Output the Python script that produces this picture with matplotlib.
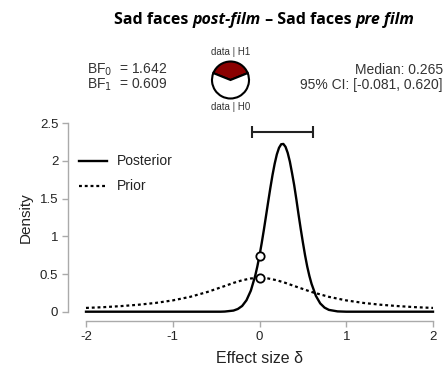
import matplotlib
matplotlib.use("Agg")
import matplotlib.pyplot as plt
import numpy as np

# posterior density
post_x = [-2.0, -0.45, -0.40, -0.30, -0.25, -0.20, -0.15, -0.10, -0.05, -0.025, 0.00,
          0.025, 0.05, 0.075, 0.10, 0.125, 0.15, 0.175, 0.20, 0.225, 0.25, 0.275,
          0.30, 0.325, 0.35, 0.375, 0.40, 0.425, 0.45, 0.475, 0.50, 0.525,
          0.55, 0.575, 0.60, 0.65, 0.70, 0.75, 0.80, 0.90, 1.00, 2.0]
post_y = [0.0, 0.0, 0.002, 0.015, 0.036, 0.076, 0.152, 0.279, 0.474, 0.600, 0.745,
          0.908, 1.084, 1.270, 1.458, 1.642, 1.814, 1.964, 2.088, 2.175, 2.222, 2.226,
          2.188, 2.108, 1.992, 1.840, 1.678, 1.490, 1.290, 1.100, 0.920, 0.750,
          0.600, 0.475, 0.370, 0.210, 0.110, 0.054, 0.024, 0.004, 0.0, 0.0]

# prior density (dotted)
prior_x = [-2.0, -1.8, -1.6, -1.4, -1.2, -1.0, -0.8, -0.6, -0.4, -0.3, -0.2, -0.1,
           0.0, 0.1, 0.2, 0.3, 0.4, 0.6, 0.8, 1.0, 1.2, 1.4, 1.6, 1.8, 2.0]
prior_y = [0.050, 0.060, 0.074, 0.092, 0.116, 0.150, 0.197, 0.262, 0.341, 0.382, 0.417, 0.441,
           0.450, 0.441, 0.417, 0.382, 0.341, 0.262, 0.197, 0.150, 0.116, 0.092, 0.074, 0.060, 0.050]

bf01 = 1.642
bf10 = 0.609
median = 0.265
ci = [-0.081, 0.620]

W, H = 445, 374
fig = plt.figure(figsize=(W / 100, H / 100), dpi=100)
plt.rcParams['font.family'] = ['Liberation Sans', 'DejaVu Sans']
plt.rcParams['axes.unicode_minus'] = False

ax = fig.add_axes([86 / W, (H - 311.7) / H, (433 - 86) / W, (311.7 - 123.3) / H])
ax.plot(post_x, post_y, color='black', lw=1.7, clip_on=False, label='Posterior', zorder=3)
ax.plot(prior_x, prior_y, color='black', lw=1.6, ls=(0, (1.3, 1.3)), clip_on=False, label='Prior', zorder=2)

# density at zero, taken from the series
p0 = post_y[post_x.index(0.0)]
q0 = prior_y[prior_x.index(0.0)]
ax.plot([0, 0], [p0, q0], 'o', ms=6, mfc='white', mec='black', mew=1.3, clip_on=False, zorder=4)

# credible interval bar
ax.errorbar(median, 2.38, xerr=[[median - ci[0]], [ci[1] - median]], fmt='none',
            ecolor='#222222', elinewidth=1.5, capsize=4, capthick=1.5, clip_on=False)

ax.set_xlim(-2, 2)
ax.set_ylim(0, 2.5)
ax.set_xticks([-2, -1, 0, 1, 2])
ax.set_yticks([0, 0.5, 1, 1.5, 2, 2.5])
ax.set_yticklabels(['0', '0.5', '1', '1.5', '2', '2.5'])
for s in ['top', 'right']:
    ax.spines[s].set_visible(False)
ax.spines['left'].set_position(('outward', 13))
ax.spines['bottom'].set_position(('outward', 7))
ax.spines['left'].set_bounds(0, 2.5)
ax.spines['bottom'].set_bounds(-2, 2)
for s in ['left', 'bottom']:
    ax.spines[s].set_color('#aaaaaa')
    ax.spines[s].set_linewidth(1.0)
ax.tick_params(colors='#aaaaaa', labelcolor='#222222', labelsize=9.5, length=4, width=1.0, pad=3)
ax.set_xlabel('Effect size δ', fontsize=11.5, color='#222222', labelpad=6)
ax.set_ylabel('Density', fontsize=11, color='#222222', labelpad=5)

leg = ax.legend(loc='upper left', bbox_to_anchor=(-0.02, 0.835), frameon=False, fontsize=10,
                handlelength=2.0, labelspacing=0.8, handletextpad=0.75,
                borderpad=0, borderaxespad=0)
for t in leg.get_texts():
    t.set_color('#222222')

# title built from bold / bold italic pieces
pieces = [("Sad faces ", 'normal'), ("post-film", 'italic'),
          (" \u2013 Sad faces ", 'normal'), ("pre film", 'italic')]
fig.canvas.draw()
r = fig.canvas.get_renderer()
texts = []
for s, st in pieces:
    t = fig.text(0, 1 - 20 / H, s, fontsize=11.5, fontweight='bold', style=st,
                 family='Open Sans', va='center', ha='left')
    texts.append(t)
widths = [t.get_window_extent(r).width for t in texts]
total = sum(widths)
x = 264 - total / 2
for t, w in zip(texts, widths):
    t.set_x(x / W)
    x += w

txt = dict(fontsize=10, color='#333333')
fig.text(87 / W, 1 - 70 / H, 'BF$_0$  = %.3f' % bf01, va='center', **txt)
fig.text(87 / W, 1 - 85 / H, 'BF$_1$  = %.3f' % bf10, va='center', **txt)
fig.text(443 / W, 1 - 70 / H, 'Median: %.3f' % median, ha='right', va='center', **txt)
fig.text(443 / W, 1 - 85 / H, '95%% CI: [%.3f, %.3f]' % (ci[0], ci[1]), ha='right', va='center', **txt)

# pie of data|H1 vs data|H0
cx, cy, rad = 230.5, 80, 18.5
pax = fig.add_axes([(cx - rad) / W, 1 - (cy + rad) / H, 2 * rad / W, 2 * rad / H])
p1 = bf10 / (1 + bf10)
wedges, _ = pax.pie([p1, 1 - p1], colors=['#8b0000', 'white'], startangle=90 - p1 * 180,
                    wedgeprops=dict(edgecolor='black', linewidth=1.5))
for w in wedges:
    w.set_clip_on(False)
pax.set_xlim(-1, 1)
pax.set_ylim(-1, 1)
pax.set_aspect('equal')
fig.text(cx / W, 1 - 52 / H, 'data | H1', ha='center', va='center', fontsize=7, color='#333333')
fig.text(cx / W, 1 - 107 / H, 'data | H0', ha='center', va='center', fontsize=7, color='#333333')

fig.savefig('out.png', dpi=100)
